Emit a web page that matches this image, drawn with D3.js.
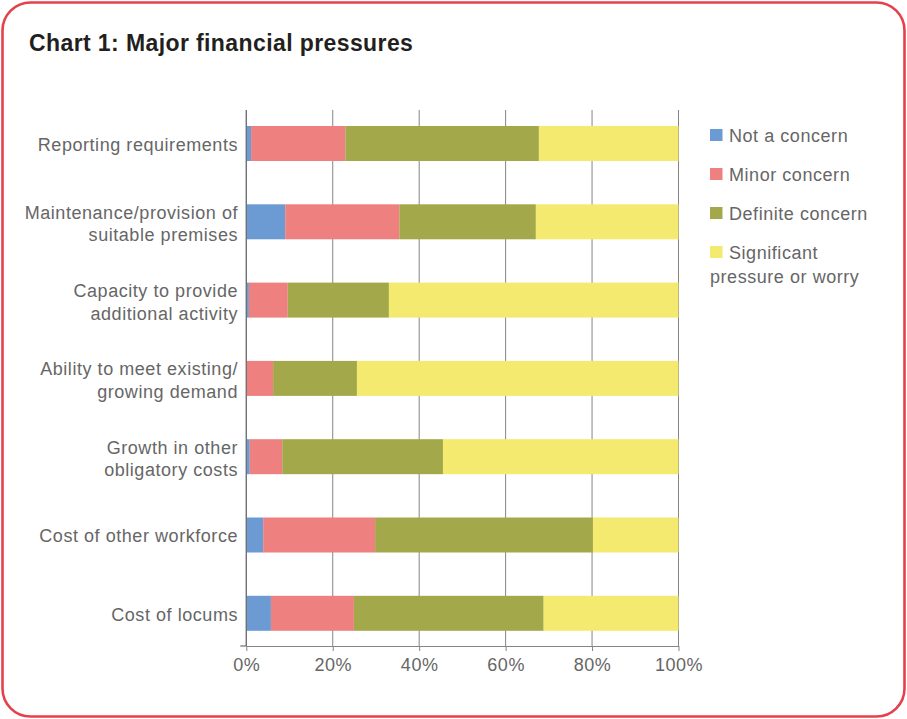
<!DOCTYPE html>
<html>
<head>
<meta charset="utf-8">
<script src="https://cdn.jsdelivr.net/npm/d3@7"></script>
<style>
  html, body { margin: 0; padding: 0; background: #fff; }
  svg { display: block; }
  text { font-family: "Liberation Sans", Arial, Helvetica, sans-serif; }
</style>
</head>
<body>
<svg id="chart" width="907" height="719"></svg>
<script>
// Survey categories, top to bottom
const categories = [
  "Reporting requirements",
  "Maintenance/provision of\nsuitable premises",
  "Capacity to provide\nadditional activity",
  "Ability to meet existing/\ngrowing demand",
  "Growth in other\nobligatory costs",
  "Cost of other workforce",
  "Cost of locums"
];

// Share of responses (%) per level of concern, one value per category
const notConcern      = [1.1, 9.0, 0.6, 0.0, 0.8, 3.9, 5.7];
const minorConcern    = [21.8, 26.4, 9.0, 6.2, 7.5, 25.9, 19.2];
const definiteConcern = [44.8, 31.6, 23.4, 19.4, 37.2, 50.4, 43.9];
const significant     = [32.3, 33.0, 67.0, 74.4, 54.5, 19.8, 31.2];

const seriesNames = ["Not a concern", "Minor concern", "Definite concern", "Significant\npressure or worry"];
const seriesColors = ["#6b9bd2", "#ee8080", "#a3a94a", "#f3ea6f"];
const tickValues = [0, 20, 40, 60, 80, 100];
const tickLabels = ["0%", "20%", "40%", "60%", "80%", "100%"];

const labelSize = 18, labelSpacing = 0.55, labelColor = "#666";

const svg = d3.select("#chart");

// Rounded frame
svg.append("rect")
  .attr("x", 2.5).attr("y", 2.5)
  .attr("width", 902).attr("height", 714)
  .attr("rx", 28).attr("ry", 28)
  .attr("fill", "#fff")
  .attr("stroke", "#e5414d")
  .attr("stroke-width", 2.6);

// Title
svg.append("text")
  .attr("x", 29).attr("y", 51)
  .attr("font-size", 23)
  .attr("letter-spacing", 0.4)
  .attr("font-weight", "bold")
  .attr("fill", "#231f20")
  .text("Chart 1: Major financial pressures");

const plotTop = 110, plotBottom = 646;

const x = d3.scaleLinear().domain([0, 100]).range([246.3, 678.5]);
const y = d3.scaleBand()
  .domain(categories)
  .range([104.35, 652.45])
  .paddingInner(0.553)
  .paddingOuter(0.2765);

// Stack the four series
const rows = categories.map((c, i) => ({
  cat: c,
  s0: notConcern[i], s1: minorConcern[i], s2: definiteConcern[i], s3: significant[i]
}));
const stacked = d3.stack().keys(["s0", "s1", "s2", "s3"])(rows);

// Vertical gridlines
svg.append("g")
  .selectAll("line")
  .data(tickValues)
  .join("line")
  .attr("x1", d => x(d)).attr("x2", d => x(d))
  .attr("y1", plotTop).attr("y2", plotBottom)
  .attr("stroke", "#858585")
  .attr("stroke-width", 1);

// Bars
svg.append("g")
  .selectAll("g")
  .data(stacked)
  .join("g")
  .attr("fill", (d, i) => seriesColors[i])
  .selectAll("rect")
  .data(d => d)
  .join("rect")
  .attr("x", d => x(d[0]))
  .attr("width", d => x(d[1]) - x(d[0]))
  .attr("y", d => y(d.data.cat))
  .attr("height", y.bandwidth());

// X axis
const xAxis = d3.axisBottom(x)
  .tickValues(tickValues)
  .tickFormat((d, i) => tickLabels[i])
  .tickSizeInner(5)
  .tickSizeOuter(0)
  .tickPadding(7);

const gx = svg.append("g")
  .attr("transform", `translate(0,${plotBottom})`)
  .call(xAxis);
gx.select(".domain").attr("stroke", "#858585").attr("stroke-width", 1.2);
gx.selectAll(".tick line").attr("stroke", "#858585");
gx.selectAll(".tick text")
  .attr("font-family", "Liberation Sans, Arial, sans-serif")
  .attr("font-size", labelSize)
  .attr("fill", labelColor)
  .attr("letter-spacing", labelSpacing);

// Y axis line with a small tick at the bottom corner
svg.append("line")
  .attr("x1", x(0)).attr("x2", x(0))
  .attr("y1", plotTop).attr("y2", plotBottom)
  .attr("stroke", "#6e6e6e").attr("stroke-width", 1.2);
svg.append("line")
  .attr("x1", x(0) - 6).attr("x2", x(0))
  .attr("y1", plotBottom).attr("y2", plotBottom)
  .attr("stroke", "#6e6e6e").attr("stroke-width", 1.2);

// Category labels
const lineH = 22.7;
svg.append("g")
  .selectAll("text")
  .data(categories)
  .join("text")
  .attr("text-anchor", "end")
  .attr("font-size", labelSize)
  .attr("letter-spacing", labelSpacing)
  .attr("fill", labelColor)
  .each(function(c) {
    const lines = c.split("\n");
    const cy = y(c) + y.bandwidth() / 2;
    const first = cy + 7.2 - (lines.length - 1) * lineH / 2 + (lines.length > 1 ? 1 : 0);
    const t = d3.select(this);
    lines.forEach((ln, k) => {
      t.append("tspan").attr("x", 238).attr("y", first + k * lineH).text(ln);
    });
  });

// Legend
const legendYs = [135, 174, 213, 252];
const legend = svg.append("g");
seriesNames.forEach((name, i) => {
  const cy = legendYs[i];
  legend.append("rect")
    .attr("x", 710).attr("y", cy - 6)
    .attr("width", 12.5).attr("height", 12)
    .attr("fill", seriesColors[i]);
  const lines = name.split("\n");
  const t = legend.append("text")
    .attr("font-size", labelSize)
    .attr("letter-spacing", labelSpacing)
    .attr("fill", labelColor);
  lines.forEach((ln, k) => {
    t.append("tspan")
      .attr("x", k === 0 ? 729 : 710)
      .attr("y", cy + 6.5 + k * 24)
      .text(ln);
  });
});
</script>
</body>
</html>
